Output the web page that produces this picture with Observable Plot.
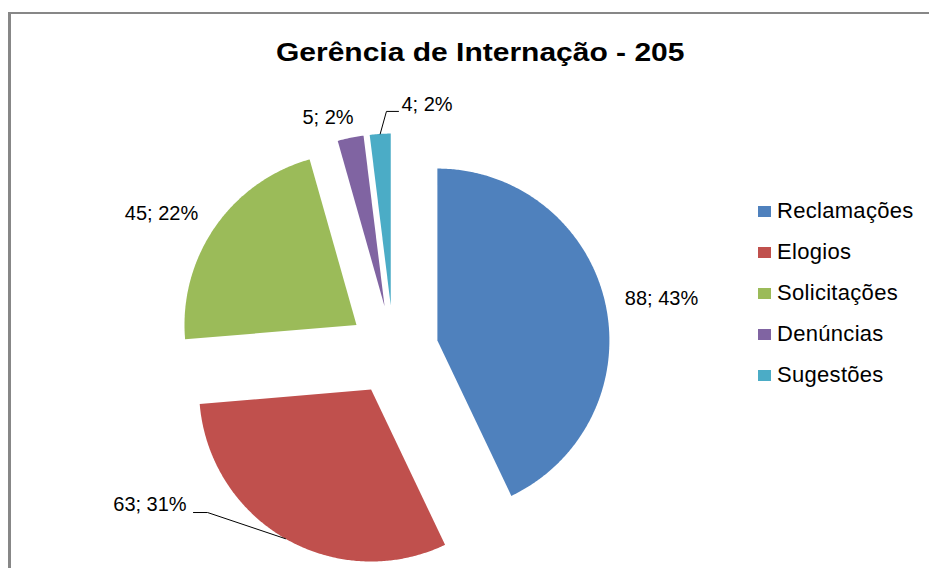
<!DOCTYPE html>
<html><head><meta charset="utf-8">
<script src="https://cdn.jsdelivr.net/npm/d3@7"></script>
<script src="https://cdn.jsdelivr.net/npm/@observablehq/plot@0.6"></script>
<style>
body{margin:0;background:#fff;font-family:"Liberation Sans",Arial,sans-serif;}
#wrap{position:relative;width:929px;height:568px;overflow:hidden;background:#fff;}
#frame{position:absolute;left:8px;top:12px;width:960px;height:620px;border-left:3px solid #878787;border-top:2px solid #878787;}
#title{position:absolute;left:0;width:960px;top:40px;text-align:center;font-weight:bold;font-size:25px;line-height:25px;color:#000;white-space:nowrap;}
#title span{display:inline-block;transform:scaleX(1.2);}
#chart{position:absolute;left:0;top:0;}
#legend{position:absolute;left:758px;top:0;}
.sw{position:absolute;left:0;width:13px;height:11px;}
.lt{position:absolute;left:19px;font-size:22px;line-height:22px;color:#000;white-space:nowrap;letter-spacing:0.3px;}
</style></head>
<body>
<div id="wrap">
  <div id="frame"></div>
  <div id="chart"></div>
  <div id="title"><span>Gerência de Internação - 205</span></div>
  <div id="legend"></div>
</div>
<script>
const titleText = "Gerência de Internação - 205";
const categories = ["Reclamações", "Elogios", "Solicitações", "Denúncias", "Sugestões"];
const values = [88, 63, 45, 5, 4];
const colors = ["#4F81BD", "#C0504D", "#9BBB59", "#8064A2", "#4BACC6"];

// layout (pie units: radius = 1, centre = 0,0)
const cx = 393, cy = 350, rpx = 172, W = 929, H = 568;
const explode = 45 / 172;
const labelLayout = [
  {x: 1.558, y: 0.302},
  {x: -1.416, y: -0.898, leader: [[-1.081, -0.942], [-1.163, -0.942]]},
  {x: -1.349, y: 0.797},
  {x: -0.381, y: 1.355},
  {x: 0.195, y: 1.430, leader: [[-0.041, 1.390], [0.029, 1.390]]}
];

const total = d3.sum(values);
const data = categories.map((name, i) => ({name, value: values[i]}));
const arcs = d3.pie().sort(null).value(d => d.value)(data);

const slicePts = [];
const leaders = [];
const labels = [];
arcs.forEach((a, i) => {
  const mid = (a.startAngle + a.endAngle) / 2;
  const ox = explode * Math.sin(mid), oy = explode * Math.cos(mid);
  const name = a.data.name;
  slicePts.push({name, x: ox, y: oy});
  const n = Math.max(4, Math.ceil((a.endAngle - a.startAngle) / (Math.PI / 360)));
  for (let k = 0; k <= n; k++) {
    const t = a.startAngle + (a.endAngle - a.startAngle) * k / n;
    slicePts.push({name, x: ox + Math.sin(t), y: oy + Math.cos(t)});
  }
  const L = labelLayout[i];
  labels.push({x: L.x, y: L.y, text: `${a.data.value}; ${Math.round(a.data.value / total * 100)}%`});
  if (L.leader) {
    leaders.push({id: name, x: ox + Math.sin(mid), y: oy + Math.cos(mid)});
    L.leader.forEach(p => leaders.push({id: name, x: p[0], y: p[1]}));
  }
});

const chart = Plot.plot({
  width: W, height: H, margin: 0,
  x: {domain: [-cx / rpx, (W - cx) / rpx], axis: null},
  y: {domain: [-(H - cy) / rpx, cy / rpx], axis: null},
  color: {domain: categories, range: colors},
  style: {background: "transparent", overflow: "visible"},
  marks: [
    Plot.line(slicePts, {x: "x", y: "y", z: "name", fill: "name", stroke: "none", curve: "linear"}),
    Plot.line(leaders, {x: "x", y: "y", z: "id", stroke: "#000", strokeWidth: 1}),
    Plot.text(labels, {x: "x", y: "y", text: "text", fontSize: 20, fontFamily: "Liberation Sans, Arial, sans-serif", fill: "#000"})
  ]
});
document.getElementById("chart").appendChild(chart);

const leg = document.getElementById("legend");
categories.forEach((c, i) => {
  const yc = 211 + i * 41;
  const sw = document.createElement("div");
  sw.className = "sw"; sw.style.top = (yc - 5.5) + "px"; sw.style.background = colors[i];
  const t = document.createElement("div");
  t.className = "lt"; t.style.top = (yc - 11) + "px"; t.textContent = c;
  leg.appendChild(sw); leg.appendChild(t);
});
</script>
</body></html>
